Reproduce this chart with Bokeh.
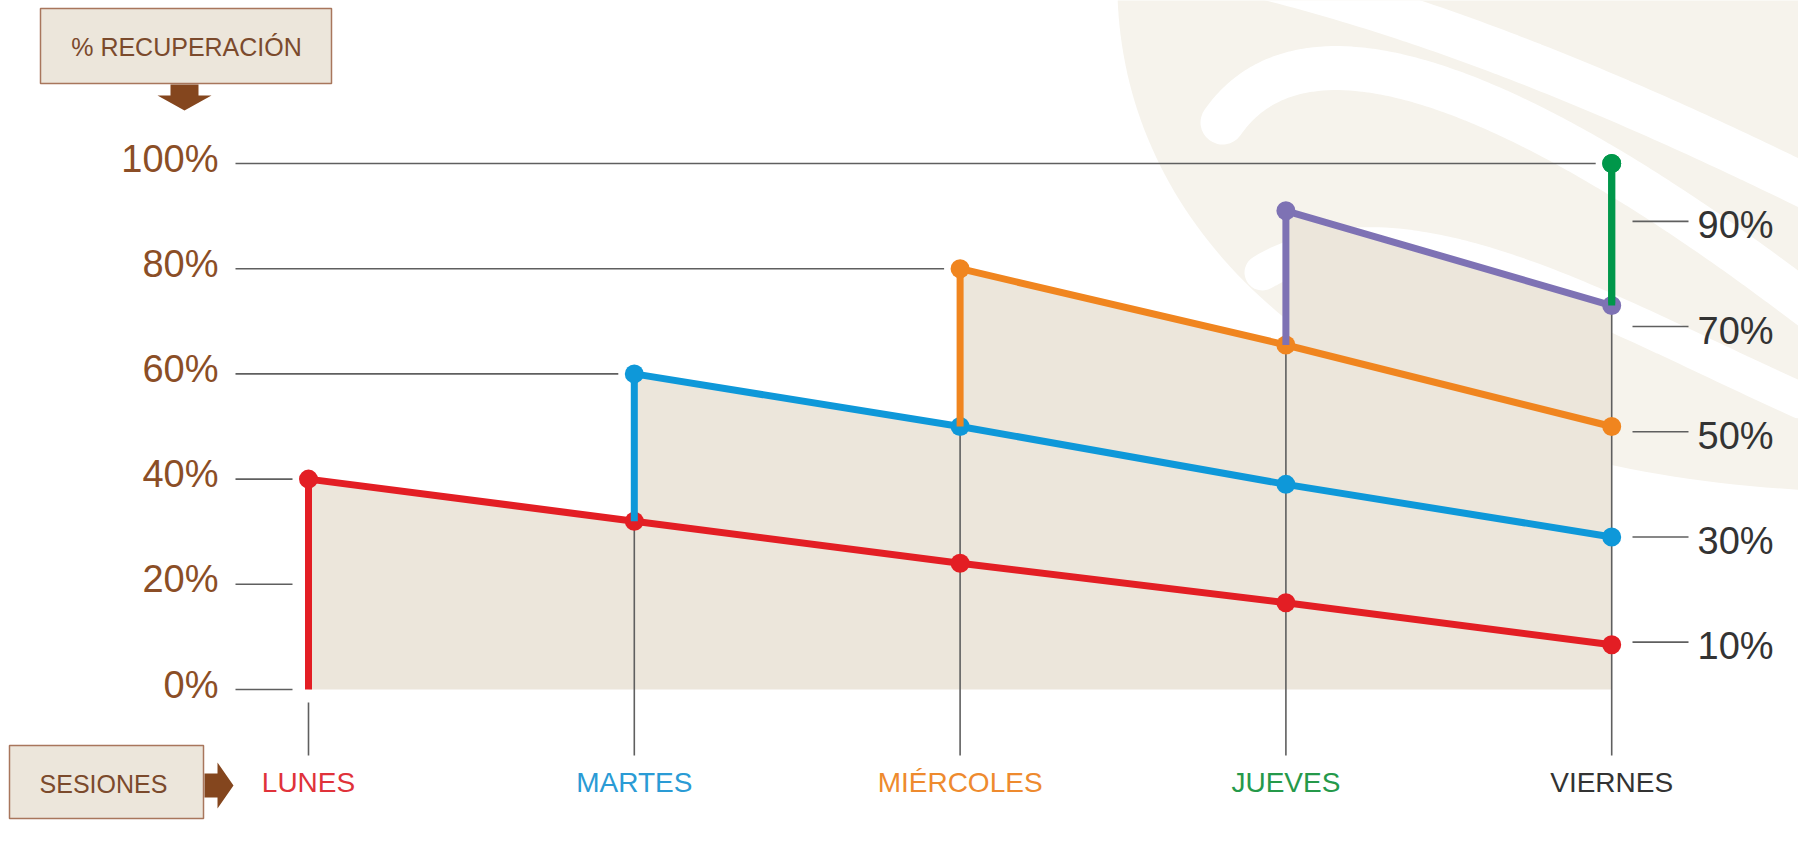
import numpy as np
from bokeh.plotting import figure
from bokeh.models import Range1d
from bokeh.embed import file_html
from bokeh.resources import INLINE
from bokeh.core.properties import value

# ---------------- data ----------------
days = ["LUNES", "MARTES", "MIÉRCOLES", "JUEVES", "VIERNES"]
day_colors = ["#E0323A", "#2A9BD5", "#EE8A2E", "#25994A", "#333333"]

red_vals = [40, 32, 24, 16.5, 8.5]      # from LUNES
blue_vals = [60, 50, 39, 29]            # from MARTES
orange_vals = [80, 65.5, 50]            # from MIÉRCOLES
purple_vals = [91, 73]                  # from JUEVES
green_vals = [100]                      # VIERNES
series = [red_vals, blue_vals, orange_vals, purple_vals, green_vals]
series_colors = ["#E31E24", "#0E98D9", "#F0851F", "#7E72B4", "#00974A"]

left_ticks = [0, 20, 40, 60, 80, 100]
left_labels = ["0%", "20%", "40%", "60%", "80%", "100%"]
right_ticks = [10, 30, 50, 70, 90]
right_labels = ["10%", "30%", "50%", "70%", "90%"]

# ---------------- geometry helpers (reference pixels -> data) ----------------
X0, DX = 308.0, 325.8
Y0, DY = 689.0, 5.26
def fx(X):
    return (X - X0) / DX
def fy(Y):
    return (Y0 - Y) / DY
def dpx(n):
    return n / DX
def dpy(n):
    return n / DY

def bez(p0, p1, p2, p3, n=80):
    t = np.linspace(0, 1, n)[:, None]
    P = ((1 - t) ** 3) * np.array(p0) + 3 * ((1 - t) ** 2) * t * np.array(p1) \
        + 3 * (1 - t) * t ** 2 * np.array(p2) + t ** 3 * np.array(p3)
    return P[:, 0], P[:, 1]

p = figure(width=1798, height=826,
           x_range=Range1d(fx(0), fx(1798)), y_range=Range1d(fy(826), fy(0)),
           output_backend="svg", toolbar_location=None,
           x_axis_location=None, y_axis_location=None, min_border=0)
p.grid.visible = False
p.outline_line_color = None
p.background_fill_color = "white"
p.border_fill_color = "white"

FONT = value("Liberation Sans")
WM = "#F6F3EC"

# ---------------- watermark (decorative) ----------------
bx, by = bez((1117, -5), (1125, 260), (1380, 470), (1814, 490))
wx = list(bx) + [1814, 1814]
wy = list(by) + [490, -5]
p.patch([fx(v) for v in wx], [fy(v) for v in wy], fill_color=WM, line_color=None)
for (a, b, c, d, w) in [((1222, 122), (1300, 10), (1500, 70), (1814, 310), 44),
                        ((1262, 272), (1400, 190), (1600, 310), (1800, 400), 36),
                        ((1235, -30), (1450, 20), (1650, 110), (1814, 190), 44)]:
    sx, sy = bez(a, b, c, d)
    p.line([fx(v) for v in sx], [fy(v) for v in sy], line_color="white",
           line_width=w, line_cap="round")

# ---------------- shaded envelope ----------------
env_x, env_y = [], []
prev = 0
for k, vals in enumerate(series[:4]):
    env_x += [k, k]
    env_y += [prev, vals[0]]
    prev = vals[1]
env_x += [4, 4]
env_y += [series[3][1], 0]
p.patch(env_x, env_y, fill_color="#ECE6DB", line_color=None)

GRAY = "#5f5f5f"
# horizontal level lines (left)
for v in left_ticks:
    end_day = 0
    for k, vals in enumerate(series):
        if vals[0] == v:
            end_day = k
    p.line([fx(235), end_day - dpx(16)], [v, v], line_color=GRAY, line_width=1.6)
p.text(x=[fx(218)] * len(left_ticks), y=[v + dpy(5) for v in left_ticks], text=left_labels,
       text_font=FONT, text_font_size="38px", text_color="#8B4E26",
       text_align="right", text_baseline="middle")

# right labels
ROFF = 1.0
for v in right_ticks:
    p.line([fx(1632), fx(1688)], [v - ROFF, v - ROFF], line_color=GRAY, line_width=1.6)
p.text(x=[fx(1697)] * len(right_ticks), y=[v - ROFF - dpy(4) for v in right_ticks], text=right_labels,
       text_font=FONT, text_font_size="38px", text_color="#333333",
       text_align="left", text_baseline="middle")

# vertical day lines
p.line([0, 0], [fy(702), fy(755)], line_color=GRAY, line_width=1.6)
for k in range(1, 5):
    p.line([k, k], [fy(755), series[k - 1][1]], line_color=GRAY, line_width=1.6)

# ---------------- series ----------------
prev = 0
for k, (vals, col) in enumerate(zip(series, series_colors)):
    xs = [k] + list(range(k, k + len(vals)))
    ys = [prev] + list(vals)
    p.line(xs, ys, line_color=col, line_width=7, line_join="round")
    if len(vals) > 1:
        prev = vals[1]
    p.scatter(list(range(k, k + len(vals))), vals, size=19, fill_color=col,
              line_color=None, marker="circle")
# green stem drawn over purple dot
p.line([4, 4], [series[3][1] + dpy(2), series[4][0]], line_color=series_colors[4], line_width=7)
p.scatter([4], [series[4][0]], size=19, fill_color=series_colors[4], line_color=None)

# day labels
p.text(x=list(range(5)), y=[fy(782)] * 5, text=days, text_color=day_colors,
       text_font=FONT, text_font_size="28px", text_align="center", text_baseline="middle")

# ---------------- label boxes ----------------
BOX_FILL = "#ECE6DB"
BOX_LINE = "#A8765C"
ARROW = "#84461E"
TXT = "#7B4A2C"
p.quad(left=fx(40), right=fx(331), top=fy(8), bottom=fy(83), fill_color=BOX_FILL,
       line_color=BOX_LINE, line_width=1.5)
p.text(x=[fx(186)], y=[fy(46)], text=["% RECUPERACIÓN"], text_font=FONT, text_font_size="25px",
       text_color=TXT, text_align="center", text_baseline="middle")
ax = [170, 198, 198, 211, 184, 157, 170]
ay = [84, 84, 95, 95, 110, 95, 95]
p.patch([fx(v) for v in ax], [fy(v) for v in ay], fill_color=ARROW, line_color=None)

p.quad(left=fx(9), right=fx(203), top=fy(745), bottom=fy(818), fill_color=BOX_FILL,
       line_color=BOX_LINE, line_width=1.5)
p.text(x=[fx(103)], y=[fy(783)], text=["SESIONES"], text_font=FONT, text_font_size="25px",
       text_color=TXT, text_align="center", text_baseline="middle")
ax = [204, 217, 217, 233, 217, 217, 204]
ay = [773, 773, 762, 785, 808, 797, 797]
p.patch([fx(v) for v in ax], [fy(v) for v in ay], fill_color=ARROW, line_color=None)

open("out.html", "w").write(file_html(p, INLINE))
